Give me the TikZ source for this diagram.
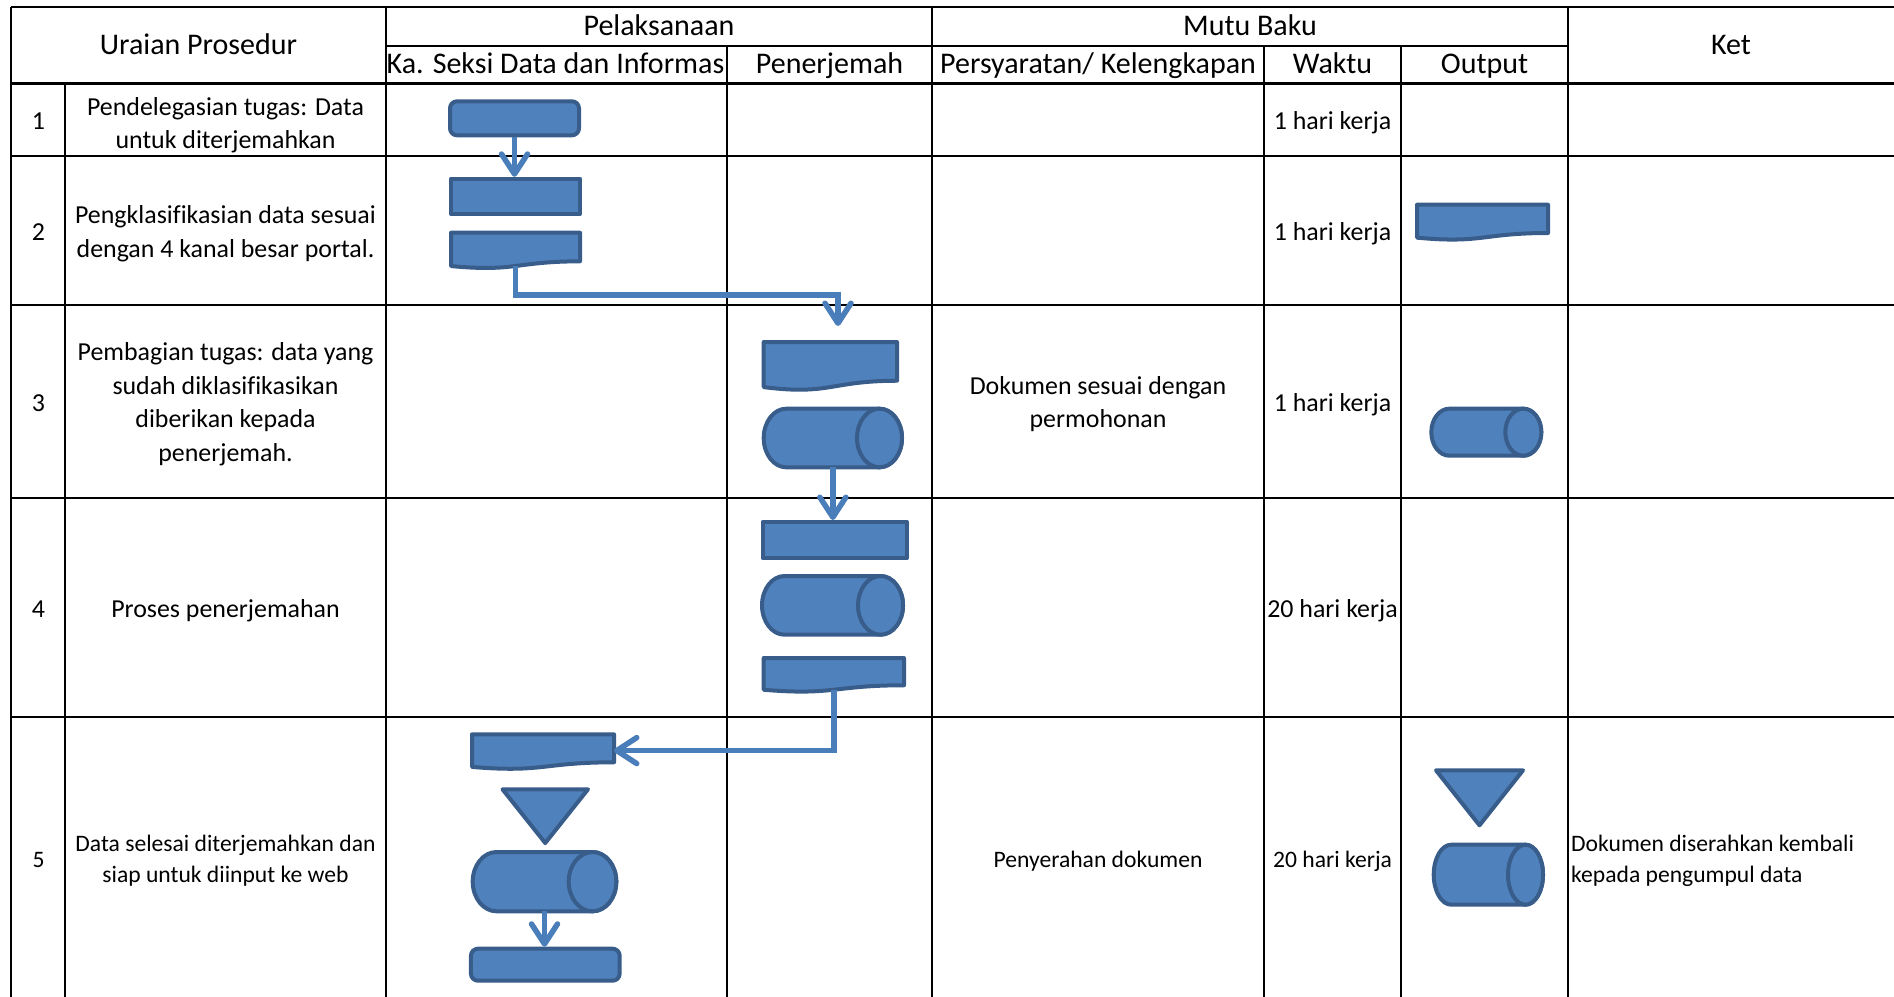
\documentclass[tikz,border=0pt]{standalone}
\usepackage{fontspec}
\setmainfont{Carlito}[Ligatures={NoCommon}]
\usetikzlibrary{arrows.meta}
\definecolor{fillblue}{HTML}{4F81BD}
\definecolor{edgeblue}{HTML}{385D8A}
\definecolor{lineblue}{HTML}{4A7EBB}
% document shape: name, x1, y1, x2, h
\newcommand\DocShape[5]{%
  \path[shp] (#2,#3) -- (#4,#3) -- (#4,{#3+0.802*#5}) .. controls ({(#2+#4)/2},{#3+0.802*#5}) and ({(#2+#4)/2},{#3+1.1075*#5}) .. (#2,{#3+0.934*#5}) -- cycle;
  \node[hitbox, minimum width={(#4-#2)*1pt}, minimum height={0.933*#5*1pt}] (#1) at (#2,#3) {};
}
% horizontal cylinder: name, x1, y1, x2, y2, rx
\newcommand\CylShape[6]{%
  \path[shp] ({#2+#6},#3) arc[start angle=-90, end angle=-270, x radius=#6, y radius={(#5-#3)/2}] -- ({#4-#6},#5) arc[start angle=90, end angle=-90, x radius=#6, y radius={(#5-#3)/2}] -- cycle;
  \path[shp] ({#4-#6},{(#3+#5)/2}) ellipse[x radius=#6, y radius={(#5-#3)/2}];
  \node[hitbox, minimum width={(#4-#2)*1pt}, minimum height={(#5-#3)*1pt}] (#1) at (#2,#3) {};
}
% merge triangle: name, x1, y1, x2, apex y
\newcommand\MergeShape[5]{%
  \path[shp] (#2,#3) -- (#4,#3) -- ({(#2+#4)/2},#5) -- cycle;
  \node[hitbox, minimum width={(#4-#2)*1pt}, minimum height={(#5-#3)*1pt}] (#1) at (#2,#3) {};
}
\begin{document}
\begin{tikzpicture}[x=1pt,y=-1pt,
  gridline/.style={line width=2.4pt, black},
  shp/.style={fill=fillblue, draw=edgeblue, line width=4pt, line join=round},
  procbox/.style={shp, inner sep=0pt},
  altbox/.style={shp, inner sep=0pt, rounded corners=7pt},
  hitbox/.style={inner sep=0pt, outer sep=0pt, draw=none, anchor=north west},
  conn/.style={draw=lineblue, line width=5.5pt, -{Straight Barb[length=20pt,width=26pt,round]}},
  hdr/.style={font=\fontsize{30}{36}\selectfont, inner sep=0pt, text height=18pt, text depth=0pt},
  body/.style={font=\fontsize{25.9}{33.5}\selectfont, align=center, inner sep=0pt, text depth=0pt},
  small/.style={font=\fontsize{23.6}{31.5}\selectfont, align=center, inner sep=0pt, text depth=0pt},
  one/.style={text height=19pt},
  onesmall/.style={text height=17.3pt},
]
\useasboundingbox (0,0) rectangle (1894,996);
\fill[white] (0,0) rectangle (1894,996);

% grid
\draw[gridline] (11,7) -- (1894,7);
\draw[gridline] (386,45.7) -- (1568,45.7);
\draw[gridline] (11,83.3) -- (1894,83.3);
\foreach \yy in {156,305,498,717} \draw[gridline] (11,\yy) -- (1894,\yy);
\draw[gridline] (11,7) -- (11,1000);
\draw[gridline] (65,83.3) -- (65,1000);
\draw[gridline] (386,7) -- (386,1000);
\draw[gridline] (727,45.7) -- (727,1000);
\draw[gridline] (932,7) -- (932,1000);
\draw[gridline] (1264,45.7) -- (1264,1000);
\draw[gridline] (1401,45.7) -- (1401,1000);
\draw[gridline] (1568,7) -- (1568,1000);

% headers
\node[hdr] (h1) at (198.5,45) {Uraian Prosedur};
\node[hdr] (h2) at (659,26.3) {Pelaksanaan};
\node[hdr] (h3) at (1250,26.3) {Mutu Baku};
\node[hdr] (h4) at (1731,45) {Ket};
\node[hdr, anchor=west] (s1) at (386.5,64.5) {Ka. Seksi Data dan Informas};
\node[hdr] (s2) at (829.5,64.5) {Penerjemah};
\node[hdr] (s3) at (1098,64.5) {Persyaratan/ Kelengkapan};
\node[hdr] (s4) at (1332.5,64.5) {Waktu};
\node[hdr] (s5) at (1484.5,64.5) {Output};

% row numbers
\node[body, one] (n1) at (38.5,120) {1};
\node[body, one] (n2) at (38.5,230.5) {2};
\node[body, one] (n3) at (38.5,401.5) {3};
\node[body, one] (n4) at (38.5,607.5) {4};
\node[small, onesmall] (n5) at (38.5,859) {5};

% procedure texts
\node[body] (u1) at (225.5,123) {Pendelegasian tugas: Data\\untuk diterjemahkan};
\node[body] (u2) at (225.5,231.5) {Pengklasifikasian data sesuai\\dengan 4 kanal besar portal.};
\node[body] (u3) at (225.5,402) {Pembagian tugas: data yang\\sudah diklasifikasikan\\diberikan kepada\\penerjemah.};
\node[body, one] (u4) at (225.5,607.5) {Proses penerjemahan};
\node[small] (u5) at (225.5,859) {Data selesai diterjemahkan dan\\siap untuk diinput ke web};

% requirements
\node[body] (p3) at (1098,402) {Dokumen sesuai dengan\\permohonan};
\node[small, onesmall] (p5) at (1098,859) {Penyerahan dokumen};

% time
\node[body, one] (w1) at (1332.5,120) {1 hari kerja};
\node[body, one] (w2) at (1332.5,230.5) {1 hari kerja};
\node[body, one] (w3) at (1332.5,401.5) {1 hari kerja};
\node[body, one] (w4) at (1332.5,607.5) {20 hari kerja};
\node[small, onesmall] (w5) at (1332.5,859) {20 hari kerja};

% remarks
\node[small, anchor=west, align=left] (k5) at (1571,859) {Dokumen diserahkan kembali\\kepada pengumpul data};

% shapes - Ka. Seksi column
\node[altbox, minimum width=129pt, minimum height=34pt] (r1) at (514.5,118.3) {};
\node[procbox, minimum width=129pt, minimum height=35pt] (r2) at (515.5,196.3) {};
\DocShape{d2}{451}{232.7}{580}{35.7}
\DocShape{d5}{472}{734.3}{614}{34.9}
\MergeShape{t5}{502.5}{789.3}{588}{843}
\CylShape{c5}{472.7}{852}{616.3}{911.3}{23.8}
\node[altbox, minimum width=148.7pt, minimum height=32pt] (rr5) at (545.3,964.7) {};

% shapes - Penerjemah column
\DocShape{d3}{763.7}{342}{897}{48.3}
\CylShape{c3}{763.7}{408.7}{902}{467.3}{22.5}
\node[procbox, minimum width=144.3pt, minimum height=36pt] (r4) at (834.8,540) {};
\CylShape{c4}{762}{576}{903}{634.7}{22.5}
\DocShape{d4}{763.7}{658}{904}{34}

% shapes - Output column
\DocShape{od2}{1417}{204.7}{1548}{35.3}
\CylShape{oc3}{1431.3}{408.7}{1541.3}{455.7}{18}
\MergeShape{ot5}{1436}{770.3}{1523}{825.3}
\CylShape{oc5}{1433.7}{844.7}{1543}{904.7}{17.5}

% connectors
\coordinate (e1) at (838,295);
\coordinate (e2) at (838,326);
\draw[conn] (r1.south) -- (r1.south |- r2.north);
\draw[conn] (d2.south) |- (e1) -- (e2);
\draw[conn] (c3.south) -- (c3.south |- r4.north);
\draw[conn] (d4.south) |- (d5.east);
\draw[conn] (c5.south) -- (c5.south |- rr5.north);
\end{tikzpicture}
\end{document}
